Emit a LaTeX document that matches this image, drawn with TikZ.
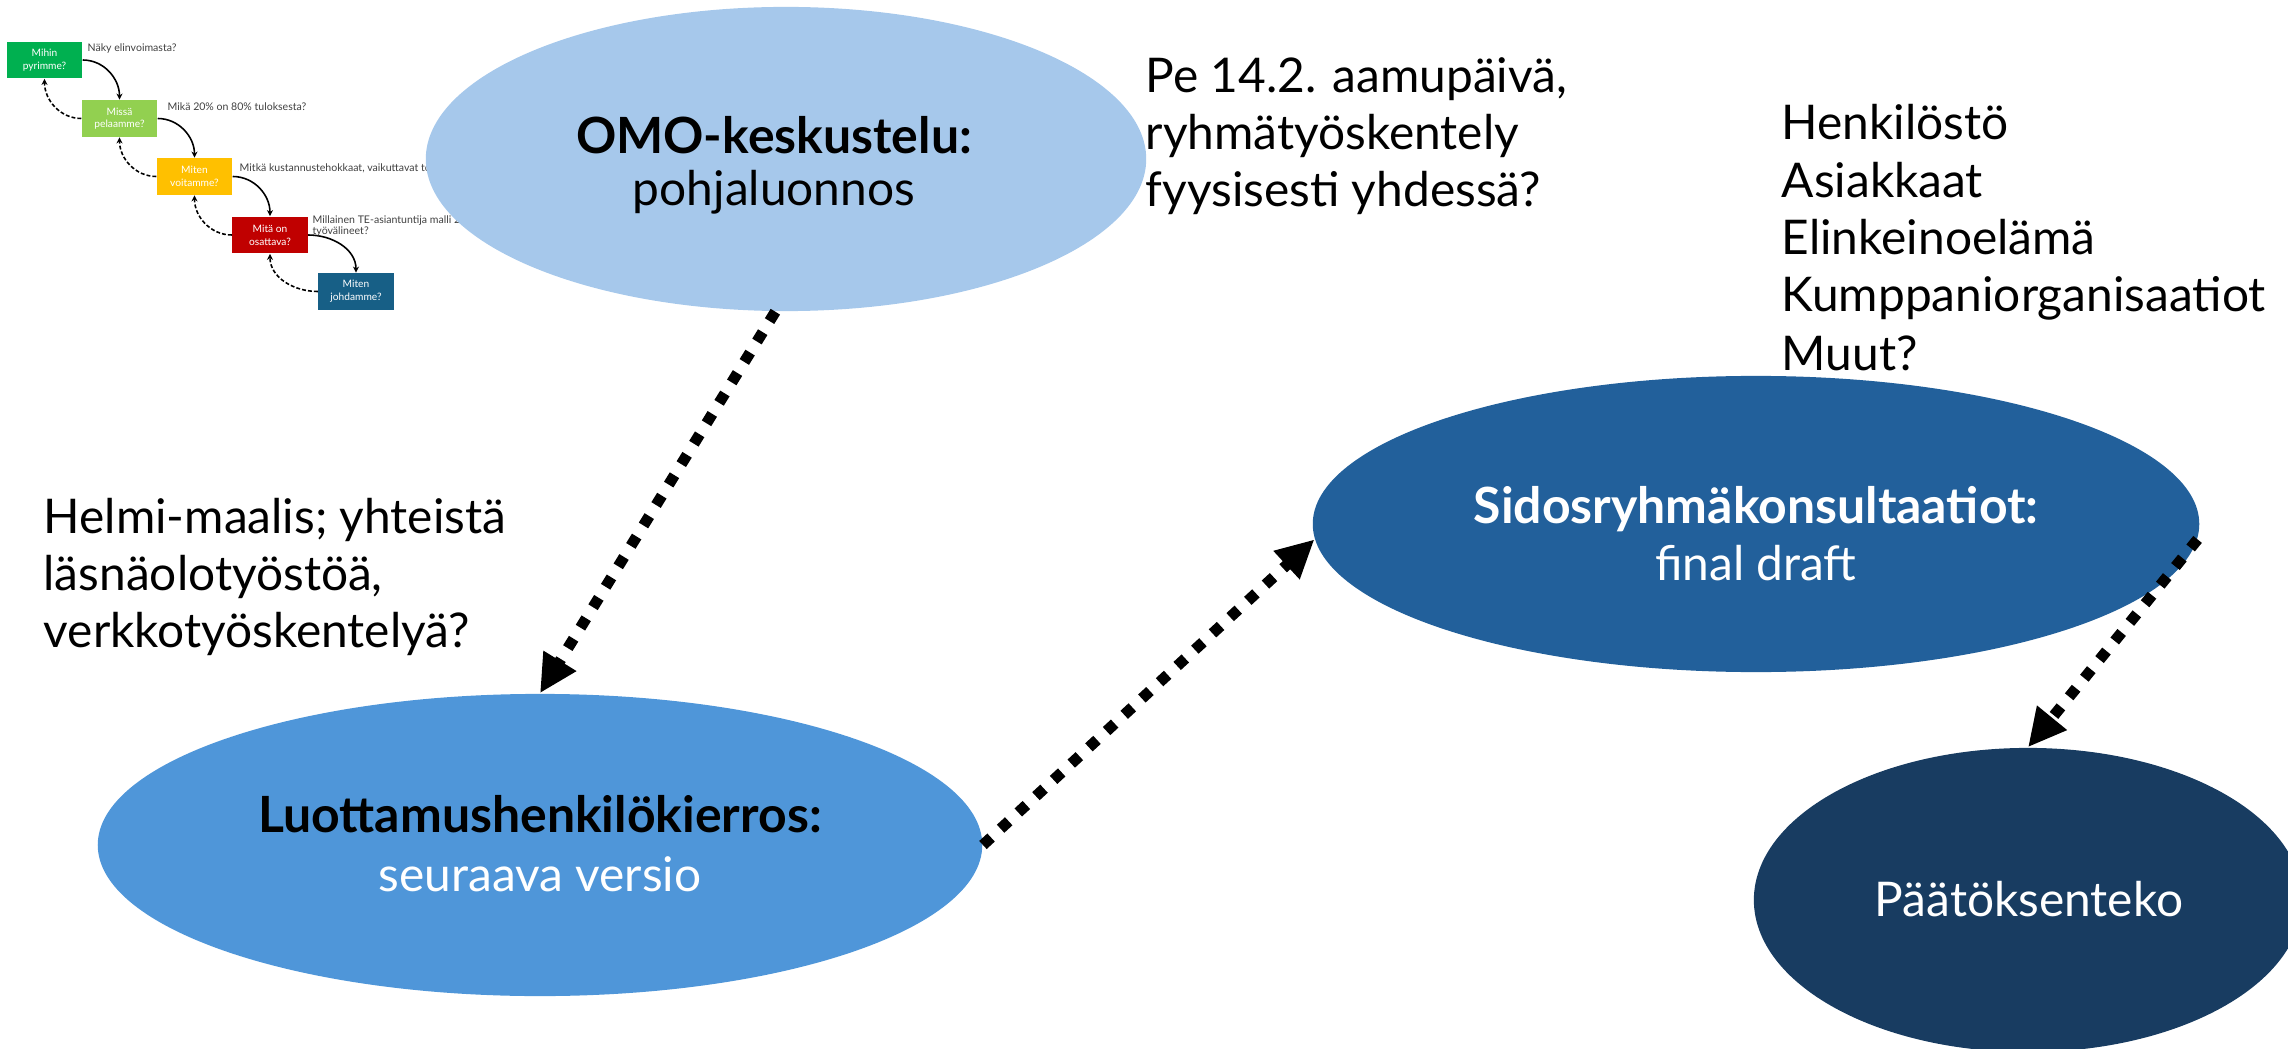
\documentclass[tikz,border=0pt]{standalone}
\usepackage{fontspec}
\setmainfont{Lato}
\usetikzlibrary{shapes.geometric,arrows.meta}

\definecolor{omoblue}{HTML}{A6C8EB}
\definecolor{luotblue}{HTML}{4F96D9}
\definecolor{sidosblue}{HTML}{22609B}
\definecolor{paatblue}{HTML}{183C61}
\definecolor{stepgreen}{HTML}{00B050}
\definecolor{steplime}{HTML}{92D050}
\definecolor{stepyellow}{HTML}{FFC000}
\definecolor{stepred}{HTML}{C00000}
\definecolor{stepteal}{HTML}{175F86}
\definecolor{labelgray}{HTML}{404040}

\tikzset{
  bubble/.style={ellipse, inner sep=0pt, draw=none},
  dotlink/.style={line width=0.11cm, dash pattern=on 0.11cm off 0.13cm,
    -{Triangle[length=0.38cm,width=0.36cm]}},
  sidetext/.style={anchor=base west, inner sep=0pt, font=\fontsize{13.6pt}{16pt}\selectfont},
  headtext/.style={anchor=base, inner sep=0pt, font=\bfseries\fontsize{14.2pt}{16pt}\selectfont},
  subtext/.style={anchor=base, inner sep=0pt, font=\fontsize{13.6pt}{16pt}\selectfont},
  stepbox/.style={minimum width=0.75cm, minimum height=0.365cm, inner sep=0pt,
    text=white, align=center, font=\fontsize{2.9pt}{3.6pt}\selectfont},
  steplabel/.style={anchor=west, inner sep=0pt, text=labelgray, align=left,
    font=\fontsize{3pt}{3.4pt}\selectfont},
  fwd/.style={line width=0.45pt, -{Stealth[length=1.7pt,width=1.7pt]}},
  backlink/.style={line width=0.45pt, dash pattern=on 1.1pt off 0.6pt,
    -{Stealth[length=1.7pt,width=1.7pt]}},
}

\begin{document}
\begin{tikzpicture}[x=0.01cm,y=-0.01cm]
\useasboundingbox (0,0) rectangle (2288,1049);
\clip (0,0) rectangle (2288,1049);

% --- small staircase of questions ---
\node[stepbox, fill=stepgreen]  (b1) at (44.5,60)   {Mihin\\pyrimme?};
\node[stepbox, fill=steplime]   (b2) at (119.5,118.5) {Missä\\pelaamme?};
\node[stepbox, fill=stepyellow] (b3) at (194.5,176.5) {Miten\\voitamme?};
\node[stepbox, fill=stepred]    (b4) at (270,235)   {Mitä on\\osattava?};
\node[stepbox, fill=stepteal]   (b5) at (356,291.5) {Miten\\johdamme?};

\draw[fwd] (b1.east) to[out=0,in=90] (b2.north);
\draw[fwd] (b2.east) to[out=0,in=90] (b3.north);
\draw[fwd] (b3.east) to[out=0,in=90] (b4.north);
\draw[fwd] (b4.east) to[out=0,in=90] (b5.north);
\draw[backlink] (b2.west) to[out=180,in=-90] (b1.south);
\draw[backlink] (b3.west) to[out=180,in=-90] (b2.south);
\draw[backlink] (b4.west) to[out=180,in=-90] (b3.south);
\draw[backlink] (b5.west) to[out=180,in=-90] (b4.south);

\node[steplabel] (q1) at (87,49)  {Näky elinvoimasta?};
\node[steplabel] (q2) at (167,107) {Mikä 20\% on 80\% tuloksesta?};
\node[steplabel] (q3) at (239,168) {Mitkä kustannustehokkaat, vaikuttavat toim};
\node[steplabel] (q4) at (312,226) {Millainen TE-asiantuntija malli 20\\työvälineet?};

% --- process ellipses ---
\node[bubble, fill=omoblue, minimum width=7.2cm, minimum height=3.04cm] (omo) at (786,159) {};
\node[bubble, fill=luotblue, minimum width=8.84cm, minimum height=3.02cm] (luot) at (540,845) {};
\node[bubble, fill=sidosblue, minimum width=8.86cm, minimum height=2.96cm] (sidos) at (1756,524) {};
\node[bubble, fill=paatblue, minimum width=5.48cm, minimum height=3.04cm] (paat) at (2028,900) {};

\node[headtext] (omo-h) at (774,154) {OMO-keskustelu:};
\node[subtext]  (omo-s) at (774,206) {pohjaluonnos};
\node[headtext] (luot-h) at (540,832) {Luottamushenkilökierros:};
\node[subtext, text=white] (luot-s) at (540,891) {seuraava versio};
\node[headtext, text=white] (sidos-h) at (1756,524) {Sidosryhmäkonsultaatiot:};
\node[subtext, text=white] (sidos-s) at (1756,580) {final draft};
\node[subtext, text=white] (paat-t) at (2029,916) {Päätöksenteko};

% --- dotted transitions ---
\draw[dotlink] (omo.266) -- (luot.90);
\draw[dotlink] (luot.0) -- (sidos.182);
\draw[dotlink] (sidos.358) -- (paat.90);

% --- side notes ---
\node[sidetext] (pe1) at (1145,93)  {Pe 14.2. aamupäivä,};
\node[sidetext] (pe2) at (1145,150) {ryhmätyöskentely};
\node[sidetext] (pe3) at (1145,207) {fyysisesti yhdessä?};

\node[sidetext] (hm1) at (43,533) {Helmi-maalis; yhteistä};
\node[sidetext] (hm2) at (43,590) {läsnäolotyöstöä,};
\node[sidetext] (hm3) at (43,647) {verkkotyöskentelyä?};

\node[sidetext] (sr1) at (1781,140) {Henkilöstö};
\node[sidetext] (sr2) at (1781,198) {Asiakkaat};
\node[sidetext] (sr3) at (1781,255) {Elinkeinoelämä};
\node[sidetext] (sr4) at (1781,312) {Kumppaniorganisaatiot};
\node[sidetext] (sr5) at (1781,370) {Muut?};
\end{tikzpicture}
\end{document}
